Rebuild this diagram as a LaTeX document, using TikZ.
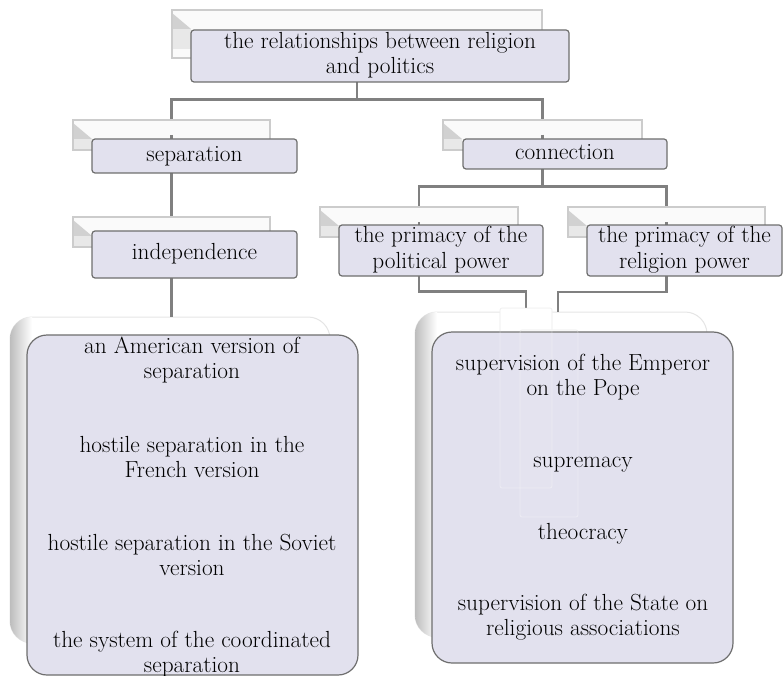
\documentclass[tikz,border=0pt]{standalone}
\usepackage{fontspec}
\usetikzlibrary{calc}
\definecolor{lav}{RGB}{226,225,238}
\definecolor{edge}{RGB}{110,110,110}
\definecolor{conncol}{RGB}{128,128,128}
\newcommand{\bxfont}{\fontsize{23.3}{25.5}\selectfont}
\tikzset{
  txt/.style={font=\bxfont, align=center, inner sep=0pt},
  slab/.style={draw=black!20, fill=black!2, line width=1.2pt, inner sep=0pt,
    path picture={\fill[black!18] ([yshift=-3pt]path picture bounding box.north west) -- ++(19,16) -- ++(-19,0) -- cycle;
                  \fill[black!9] ([yshift=-19pt]path picture bounding box.north west) rectangle ++(19,20);}},
  mainbox/.style={draw=edge, fill=lav, line width=1.2pt, rounded corners=3pt, inner sep=0pt,
    font=\bxfont, align=center},
  bigslab/.style={draw=black!10, fill=white, line width=1pt, rounded corners=22pt, inner sep=0pt},
  bigbox/.style={draw=edge, fill=lav, line width=1.2pt, rounded corners=20pt, inner sep=0pt},
  ghost/.style={draw=white, draw opacity=0.35, fill=white, fill opacity=0.06, line width=0.8pt, rounded corners=2pt, inner sep=0pt},
  conn/.style={draw=conncol, line width=2.4pt},
}
\begin{document}
\begin{tikzpicture}[x=1pt,y=-1pt]
\useasboundingbox (0,0) rectangle (783,676);
% back slabs
\node[slab, minimum width=370pt, minimum height=48pt] (topb) at (357,34) {};
\node[slab, minimum width=197pt, minimum height=30pt] (sepb) at (171.5,135) {};
\node[slab, minimum width=197pt, minimum height=30pt] (indb) at (171.5,232) {};
\node[slab, minimum width=199pt, minimum height=30pt] (conb) at (542.5,135) {};
\node[slab, minimum width=198pt, minimum height=30pt] (polb) at (419,222) {};
\node[slab, minimum width=197pt, minimum height=30pt] (relb) at (666.5,222) {};
\node[bigslab, minimum width=320pt, minimum height=326pt] (leftb) at (170,480) {};
\begin{scope}
  \clip[rounded corners=22pt] (10,317) rectangle (330,643);
  \shade[left color=black!26, right color=white] (10,317) rectangle (32,643);
\end{scope}
\node[bigslab, minimum width=292pt, minimum height=325pt] (rightb) at (561,474.5) {};
\begin{scope}
  \clip[rounded corners=22pt] (415,312) rectangle (707,637);
  \shade[left color=black!26, right color=white] (415,312) rectangle (437,637);
\end{scope}
\coordinate (rin) at (558,312);
\node[ghost, draw=black!8, draw opacity=1, fill opacity=1, minimum width=52pt, minimum height=180pt] (ghost1) at (526,398) {};
\node[ghost, draw=black!8, draw opacity=1, fill opacity=1, minimum width=58pt, minimum height=187pt] (ghost2) at (549,423.5) {};
% connectors
\draw[conn] (topb.center) |- ($(sepb.north)+(0,-20)$) -| (sepb.north);
\draw[conn] (topb.center) |- ($(conb.north)+(0,-20)$) -| (conb.north);
\draw[conn] (sepb.center) -- (indb.north);
\draw[conn] (indb.center) -- (indb.center |- leftb.north);
\draw[conn] (conb.center) |- ($(polb.north)+(0,-20)$) -| (polb.north);
\draw[conn] (conb.center) |- ($(relb.north)+(0,-20)$) -| (relb.north);
\draw[conn] (polb.center) |- ($(ghost1.north)+(0,-16)$) -| (ghost1.north);
\draw[conn] (relb.center) |- ($(rin)+(0,-20)$) -| (rin);
% main boxes
\node[mainbox, minimum width=378pt, minimum height=52pt] (top) at (380,56) {\strut the relationships between religion\\\strut and politics};
\node[mainbox, minimum width=205pt, minimum height=34pt] (sep) at (194.5,156) {\strut separation};
\node[mainbox, minimum width=205pt, minimum height=47pt] (ind) at (194.5,254.5) {\strut independence};
\node[mainbox, minimum width=204pt, minimum height=30pt] (con) at (565,154) {\strut connection};
\node[mainbox, minimum width=204pt, minimum height=51pt] (pol) at (441,250.5) {\strut the primacy of the\\\strut political power};
\node[mainbox, minimum width=195pt, minimum height=51pt] (rel) at (684.5,250.5) {\strut the primacy of the\\\strut religion power};
\node[bigbox, minimum width=331pt, minimum height=340pt] (left) at (192.5,505) {};
\node[bigbox, minimum width=301pt, minimum height=331pt] (right) at (582.5,497.5) {};
\node[ghost, minimum width=52pt, minimum height=180pt] (ghost1f) at (526,398) {};
\node[ghost, minimum width=58pt, minimum height=187pt] (ghost2f) at (549,423.5) {};
% texts in big boxes
\node[txt, anchor=north] (l1) at (192,335) {\strut an American version of\\\strut separation};
\node[txt, anchor=north] (l2) at (192,434) {\strut hostile separation in the\\\strut French version};
\node[txt, anchor=north] (l3) at (192,532) {\strut hostile separation in the Soviet\\\strut version};
\node[txt, anchor=north] (l4) at (192,629) {\strut the system of the coordinated\\\strut separation};
\node[txt, anchor=north] (r1) at (583,352) {\strut supervision of the Emperor\\\strut on the Pope};
\node[txt, anchor=north] (r2) at (583,449) {\strut supremacy};
\node[txt, anchor=north] (r3) at (583,521) {\strut theocracy};
\node[txt, anchor=north] (r4) at (583,592) {\strut supervision of the State on\\\strut religious associations};
\end{tikzpicture}
\end{document}
